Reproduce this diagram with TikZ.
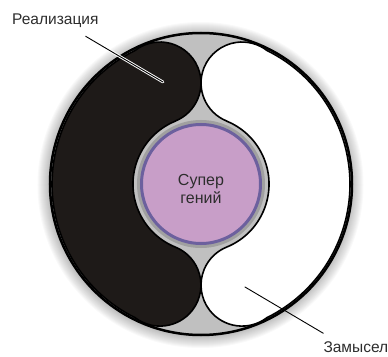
\documentclass[tikz,border=0pt]{standalone}
\usepackage{fontspec}
\setmainfont{Liberation Sans}

\definecolor{ringgrey}{RGB}{192,192,192}
\definecolor{halogrey}{RGB}{160,160,160}
\definecolor{lobeblack}{RGB}{30,26,24}
\definecolor{geniusfill}{RGB}{200,158,200}
\definecolor{geniusline}{RGB}{108,96,158}
\definecolor{textgrey}{RGB}{45,45,45}

% outline of one kidney (left one; mirrored for the right one)
\newcommand{\kidneypath}{(-25.6,63.0)
	arc[start angle=-67.9, end angle=127.5, radius=41]
	arc[start angle=116.3, end angle=243.7, radius=149]
	arc[start angle=232.5, end angle=427.9, radius=41]
	arc[start angle=247.9, end angle=112.1, radius=68] -- cycle}

\begin{document}
\begin{tikzpicture}[
	x=1pt, y=1pt,
	kidney/.style={draw=black, line width=1.6pt},
	rim/.style={draw=black, line width=2.5pt},
	leader/.style={line width=0.9pt, line cap=round},
	sidelabel/.style={font=\fontsize{15.5}{18}\selectfont, text=textgrey, inner sep=0pt},
	genius/.style={
		circle,
		fill=geniusfill,
		draw=geniusline,
		line width=3pt,
		minimum size=119pt,
		inner sep=0pt
	},
	geniustext/.style={font=\fontsize{16}{18}\selectfont, text=textgrey, align=center, inner sep=0pt}
]
\useasboundingbox (-201,-172) rectangle (187,184);

% Sombra exterior
\foreach \r in {1,...,12}
	\fill[black, opacity=0.025] (-0.5,-1) circle[radius=151+\r];

% Fondo gris
\fill[ringgrey] (0,0) circle[radius=151];

% Riñones
\filldraw[kidney, fill=lobeblack] \kidneypath;
\begin{scope}[xscale=-1]
	\filldraw[kidney, fill=white] \kidneypath;
\end{scope}

% Círculo central
\fill[halogrey] (0,0) circle[radius=64];
\node[genius] (genius) at (0,0) {};
\node[geniustext] (gtext) at ([yshift=-4.5pt]genius.center) {Супер\\гений};

% Borde exterior
\draw[rim] (0,0) circle[radius=151];

% Rótulos
\node[sidelabel, anchor=base west] (real) at (-189,159) {Реализация};
\node[sidelabel, anchor=base west] (zam) at (122.3,-168.3) {Замысел};
\coordinate (realtip) at (-38,102);
\coordinate (zamtip) at (44,-103);

\draw[leader, white, line width=2.8pt] ([xshift=-13pt,yshift=-8pt]real.south east) -- (realtip);
\draw[leader, black] ([xshift=-13pt,yshift=-8pt]real.south east) -- (realtip);
\draw[leader, black] (zamtip) -- ([yshift=8pt]zam.north west);

\end{tikzpicture}
\end{document}
